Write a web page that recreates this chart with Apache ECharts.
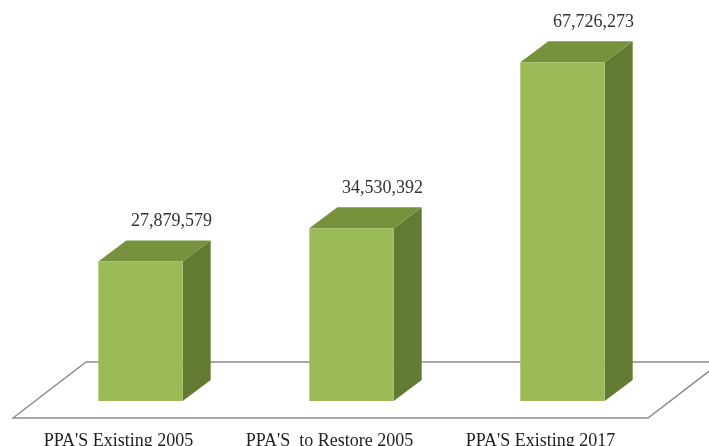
<!DOCTYPE html>
<html>
<head>
<meta charset="utf-8">
<script src="https://cdn.jsdelivr.net/npm/echarts@6/dist/echarts.min.js"></script>
<style>
  html, body { margin: 0; padding: 0; background: #fff; }
  #main { width: 709px; height: 446px; }
</style>
</head>
<body>
<div id="main"></div>
<script>
const categories = ["PPA'S Existing 2005", "PPA'S  to Restore 2005", "PPA'S Existing 2017"];
const values = [27879579, 34530392, 67726273];

// 3d look
const DEPTH_X = 28;
const DEPTH_Y = -21;

function fmt(n) {
  return n.toString().replace(/\B(?=(\d{3})+(?!\d))/g, ',');
}

function renderBar(params, api) {
  const idx = api.value(0);
  const top = api.coord([idx, api.value(1)]);
  const base = api.coord([idx, 0]);
  const w = api.size([1, 0])[0] * 0.4;
  const x0 = top[0] - w / 2;
  const x1 = top[0] + w / 2;
  const yT = top[1];
  const yB = base[1];
  return {
    type: 'group',
    children: [
      {
        type: 'polygon',
        shape: { points: [[x1, yT], [x1 + DEPTH_X, yT + DEPTH_Y], [x1 + DEPTH_X, yB + DEPTH_Y], [x1, yB]] },
        style: { fill: '#637a33' }
      },
      {
        type: 'polygon',
        shape: { points: [[x0, yT], [x0 + DEPTH_X, yT + DEPTH_Y], [x1 + DEPTH_X, yT + DEPTH_Y], [x1, yT]] },
        style: { fill: '#76923c' }
      },
      {
        type: 'rect',
        shape: { x: x0, y: yT, width: w, height: yB - yT },
        style: { fill: '#9bbb59' }
      },
      {
        type: 'text',
        style: {
          x: top[0] + 31,
          y: yT - 40,
          text: fmt(api.value(1)),
          align: 'center',
          verticalAlign: 'middle',
          fill: '#333',
          font: '18px "Liberation Serif", "Times New Roman", serif'
        }
      }
    ]
  };
}

const chart = echarts.init(document.getElementById('main'));
chart.setOption({
  animation: false,
  grid: { left: 35, right: 41, top: 1, bottom: 45, outerBoundsMode: 'none' },
  graphic: [
    {
      type: 'polygon',
      z: 0,
      shape: { points: [[13, 418], [86, 362], [721, 362], [648, 418]] },
      style: { fill: '#fff', stroke: '#8c8c8c', lineWidth: 1.5 }
    }
  ],
  xAxis: {
    type: 'category',
    data: categories,
    axisLine: { show: false },
    axisTick: { show: false },
    axisLabel: {
      interval: 0,
      margin: 31,
      padding: [0, 44, 0, 0],
      color: '#222',
      fontSize: 18,
      fontFamily: '"Liberation Serif", "Times New Roman", serif'
    }
  },
  yAxis: {
    type: 'value',
    min: 0,
    max: 80000000,
    show: false
  },
  series: [
    {
      type: 'custom',
      z: 5,
      renderItem: renderBar,
      data: values.map((v, i) => [i, v])
    }
  ]
});
</script>
</body>
</html>
